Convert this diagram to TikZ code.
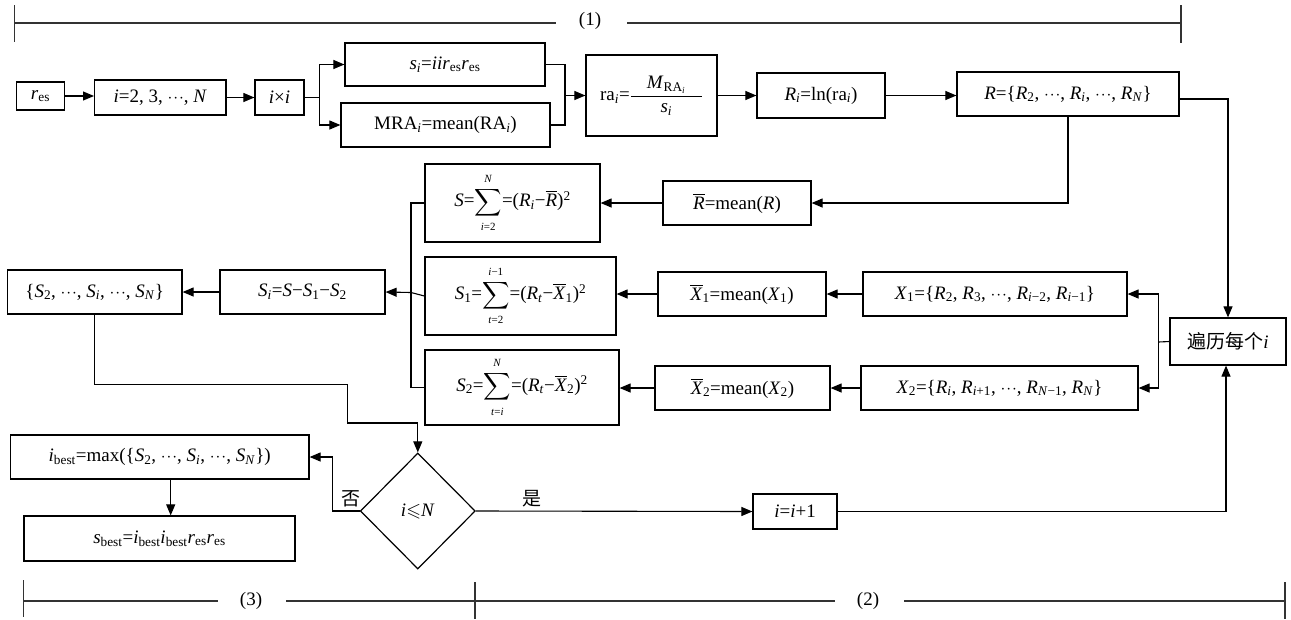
\documentclass[tikz,border=0pt]{standalone}
\usepackage{fontspec}
\usepackage{amssymb}
\setmainfont{Liberation Serif}
\newfontfamily\cjk{Noto Sans CJK SC}
\usetikzlibrary{arrows.meta,shapes.geometric}
\newcommand\vi[1]{\textit{#1}}
\newcommand\sbs[1]{\textsubscript{#1}}
\newcommand\obar[1]{$\overline{\mbox{#1}}$}
\newcommand\mydots{$\mathord{\cdot}\mkern1mu\mathord{\cdot}\mkern1mu\mathord{\cdot}$}
\newcommand\mysum[2]{$\displaystyle\sum_{\mbox{\fontsize{11}{11}\selectfont\rule{0pt}{10pt}#1}}^{\mbox{\fontsize{11}{11}\selectfont\rule[-2.5pt]{0pt}{2.5pt}#2}}$}
\newcommand\mybox[6]{\node[box,minimum width={(#4-#2)*1pt},minimum height={(#5-#3)*1pt}] (#1) at ({(#2+#4)/2},{(#3+#5)/2}) {#6};}
\begin{document}
\begin{tikzpicture}[x=1pt,y=-1pt,
 box/.style={draw,line width=1.2pt,inner sep=0pt,font=\fontsize{19}{22}\selectfont},
 conn/.style={line width=1.1pt},
 arr/.style={conn,-{Triangle[length=11pt,width=9pt]}},
 brk/.style={line width=1.1pt,draw=black!80},
 lbl/.style={inner sep=0pt,font=\fontsize{19}{22}\selectfont}]
\useasboundingbox (0,0) rectangle (1291,619);
% boxes
\mybox{res}{16.6}{82}{64.3}{110}{\vi{r}\sbs{es}}
\mybox{iN}{94.6}{80}{226}{115}{\vi{i}=2, 3, \mydots, \vi{N}}
\mybox{ixi}{255}{80}{304}{115}{\vi{i}×\vi{i}}
\mybox{si}{345}{43}{545}{86}{\vi{s}\sbs{\vi{i}}=\vi{iir}\sbs{es}\vi{r}\sbs{es}}
\mybox{mra}{341}{103}{550}{147}{MRA\sbs{\vi{i}}=mean(RA\sbs{\vi{i}})}
\mybox{ra}{586}{55}{717}{136}{ra\sbs{\vi{i}}=$\displaystyle\frac{\mbox{\hspace{16pt}\vi{M}\sbs{RA\sbs{\vi{i}}}\hspace{16pt}}}{\mbox{\vi{s}\sbs{\vi{i}}}}$}
\mybox{Ri}{757}{73}{885}{118}{\vi{R}\sbs{\vi{i}}=ln(ra\sbs{\vi{i}})}
\mybox{R}{957}{72}{1179}{116}{\vi{R}=\{\vi{R}\sbs{2}, \mydots, \vi{R}\sbs{\vi{i}}, \mydots, \vi{R}\sbs{\vi{N}}\}}
\mybox{Rbar}{663}{181}{811}{225}{\obar{\vi{R}}=mean(\vi{R})}
\mybox{S}{425}{164}{600}{242}{\vi{S}=\mysum{\vi{i}=2}{\vi{N}}=(\vi{R}\sbs{\vi{i}}−\obar{\vi{R}})\textsuperscript{2}}
\mybox{S1}{425}{257}{616}{335}{\vi{S}\sbs{1}=\mysum{\vi{t}=2}{\vi{i}−1}=(\vi{R}\sbs{\vi{t}}−\obar{\vi{X}}\sbs{1})\textsuperscript{2}}
\mybox{S2}{425}{350}{619}{425}{\vi{S}\sbs{2}=\mysum{\vi{t}=\vi{i}}{\vi{N}}=(\vi{R}\sbs{\vi{t}}−\obar{\vi{X}}\sbs{2})\textsuperscript{2}}
\mybox{X1bar}{658}{272}{826}{316}{\obar{\vi{X}}\sbs{1}=mean(\vi{X}\sbs{1})}
\mybox{X1}{863}{272}{1127}{316}{\vi{X}\sbs{1}=\{\vi{R}\sbs{2}, \vi{R}\sbs{3}, \mydots, \vi{R}\sbs{\vi{i}−2}, \vi{R}\sbs{\vi{i}−1}\}}
\mybox{X2bar}{655}{366}{830}{410}{\obar{\vi{X}}\sbs{2}=mean(\vi{X}\sbs{2})}
\mybox{X2}{861}{366}{1138}{410}{\vi{X}\sbs{2}=\{\vi{R}\sbs{\vi{i}}, \vi{R}\sbs{\vi{i}+1}, \mydots, \vi{R}\sbs{\vi{N}−1}, \vi{R}\sbs{\vi{N}}\}}
\mybox{trav}{1170}{318}{1286}{365}{{\cjk 遍历每个}\vi{i}}
\mybox{Si}{220}{270}{385}{314}{\vi{S}\sbs{\vi{i}}=\vi{S}−\vi{S}\sbs{1}−\vi{S}\sbs{2}}
\mybox{Sset}{7.5}{270}{182}{314}{\{\vi{S}\sbs{2}, \mydots, \vi{S}\sbs{\vi{i}}, \mydots, \vi{S}\sbs{\vi{N}}\}}
\mybox{ibest}{10.4}{435}{309}{479}{\vi{i}\sbs{best}=max(\{\vi{S}\sbs{2}, \mydots, \vi{S}\sbs{\vi{i}}, \mydots, \vi{S}\sbs{\vi{N}}\})}
\mybox{sbest}{24}{516}{295}{561}{\vi{s}\sbs{best}=\vi{i}\sbs{best}\vi{i}\sbs{best}\vi{r}\sbs{es}\vi{r}\sbs{es}}
\mybox{inc}{753}{494}{837}{529}{\vi{i}=\vi{i}+1}
\node[draw,diamond,aspect=1,line width=1.2pt,inner sep=0pt,minimum width=115pt,minimum height=116pt,font=\fontsize{19}{22}\selectfont] (dia) at (417.8,511) {\vi{i}$\leqslant$\vi{N}};
% labels
\node[lbl,font=\fontsize{19}{22}\selectfont\cjk] (no) at (350.6,499) {否};
\node[lbl,font=\fontsize{19}{22}\selectfont\cjk] (yes) at (532,499) {是};
% junctions
\coordinate (b1) at (319.5,97.5);
\coordinate (m1) at (565,95.5);
\coordinate (t1) at (1158.7,342);
\coordinate (sb) at (411,292.5);
\coordinate (c1) at (347.7,384.3);
\coordinate (c2) at (347.7,423);
\coordinate (n1) at (332.8,511);
% connectors
\draw[arr] (res.east) -- (res.east -| iN.west);
\draw[arr] (iN.east) -- (ixi.west);
\draw[conn] (ixi.east) -- (b1);
\draw[arr] (b1) |- (si.west);
\draw[arr] (b1) |- (mra.west);
\draw[conn] (si.east) -| (m1);
\draw[conn] (mra.east) -| (m1);
\draw[arr] (m1) -- (ra.west);
\draw[arr] (ra.east) -- (ra.east -| Ri.west);
\draw[arr] (Ri.east) -- (Ri.east -| R.west);
\draw[arr] ([yshift=-5pt]R.east) -| (trav.north);
\draw[arr] (R.south) |- (Rbar.east);
\draw[arr] (Rbar.west) -- (S.east);
\draw[arr] (X1.west) -- (X1.west -| X1bar.east);
\draw[arr] (X1bar.west) -- (X1bar.west -| S1.east);
\draw[arr] (X2.west) -- (X2.west -| X2bar.east);
\draw[arr] (X2bar.west) -- (X2bar.west -| S2.east);
\draw[conn] (trav.west) -- (t1);
\draw[arr] (t1) |- (X1.east);
\draw[arr] (t1) |- (X2.east);
\draw[conn] (S.west) -| (sb);
\draw[conn] (S2.west) -| (sb);
\draw[conn] (S1.west) -- (sb);
\draw[arr] (sb) -- (Si.east);
\draw[arr] (Si.west) -- (Sset.east);
\draw[arr] (Sset.south) |- (c1) -- (c2) -| (dia.north);
\draw[arr] (dia.west) -- (n1) |- (ibest.east);
\draw[arr] ([xshift=11pt]ibest.south) -- ([xshift=11pt]ibest.south |- sbest.north);
\draw[arr] (dia.east) -- (inc.west);
\draw[arr] (inc.east) -| ([xshift=-2pt]trav.south);
% brackets
\node[lbl] (l1) at (590,21) {(1)};
\draw[brk] (14.5,5) -- (14.5,42);
\draw[brk] (14.5,23) -- (556,23);
\draw[brk] (627,23) -- (1181,23);
\draw[brk] (1181,5) -- (1181,43);
\node[lbl] (l3) at (251,601) {(3)};
\node[lbl] (l2) at (868,601) {(2)};
\draw[brk] (23.7,580) -- (23.7,617);
\draw[brk] (23.7,601) -- (218,601);
\draw[brk] (286,601) -- (835,601);
\draw[brk] (475,582) -- (475,619);
\draw[brk] (904,601) -- (1285,601);
\draw[brk] (1285,582) -- (1285,619);
\end{tikzpicture}
\end{document}
